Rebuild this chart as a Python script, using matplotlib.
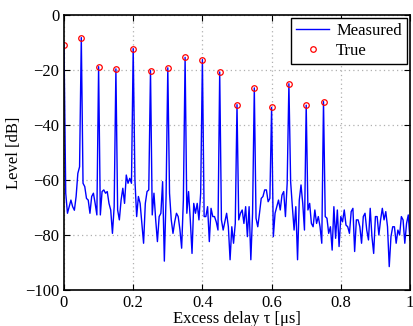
import numpy as np
import matplotlib
matplotlib.use('Agg')
import matplotlib.pyplot as plt

plt.rcParams['font.family'] = ['Liberation Serif', 'DejaVu Serif']
plt.rcParams['axes.unicode_minus'] = True

# true path delays [us] and levels [dB]
true_delay = [0.00, 0.05, 0.10, 0.15, 0.20, 0.25, 0.30, 0.35,
              0.40, 0.45, 0.50, 0.55, 0.60, 0.65, 0.70, 0.75]
true_level = [-10.9, -8.2, -18.8, -19.6, -12.2, -20.2, -19.2, -15.4,
              -16.2, -20.7, -32.6, -26.5, -33.6, -25.0, -32.8, -31.5]

# measured response, sampled every 0.005 us from 0 to 1 us
meas_step = 0.005
meas_level = [
    -10.9, -64.8, -72.1, -69.7, -67.3, -69.7, -71.0, -66.0, -57.6, -55.2,
    -8.2, -61.2, -62.4, -66.7, -67.3, -72.1, -66.0, -64.8, -68.5, -72.7,
    -18.8, -72.7, -64.2, -63.6, -64.8, -64.2, -68.5, -70.9, -79.4, -69.7,
    -19.6, -70.9, -74.5, -67.3, -63.0, -68.5, -58.2, -61.2, -59.4, -61.2,
    -12.2, -60.0, -73.3, -66.0, -68.5, -75.8, -83.0, -68.5, -64.2, -63.6,
    -20.2, -72.7, -64.8, -74.5, -82.4, -73.3, -72.1, -60.6, -89.5, -66.0,
    -19.2, -64.8, -74.5, -79.4, -75.2, -72.1, -73.3, -78.0, -84.8, -67.3,
    -15.4, -72.1, -64.2, -74.5, -86.7, -68.5, -72.1, -68.5, -74.5, -64.8,
    -16.2, -73.3, -73.3, -69.7, -82.4, -70.3, -73.3, -73.3, -75.2, -78.2,
    -20.7, -74.5, -78.2, -75.2, -72.1, -77.0, -89.0, -77.0, -83.0, -75.8,
    -32.6, -74.5, -72.1, -70.9, -75.8, -69.7, -80.6, -69.7, -89.0, -72.1,
    -26.5, -73.9, -77.0, -72.1, -66.7, -66.0, -63.6, -63.6, -67.9, -66.7,
    -33.6, -80.6, -72.1, -69.7, -67.3, -70.9, -65.5, -64.2, -73.3, -61.2,
    -25.0, -60.6, -69.7, -78.2, -69.7, -89.0, -67.3, -61.8, -68.5, -78.2,
    -32.8, -70.9, -68.5, -75.8, -77.0, -70.9, -75.8, -73.3, -77.0, -83.0,
    -31.5, -73.3, -73.9, -79.4, -77.0, -85.5, -69.7, -81.2, -70.9, -84.2,
    -73.3, -75.2, -70.9, -76.4, -77.0, -79.4, -71.5, -70.3, -86.0, -74.5,
    -74.5, -77.0, -83.0, -73.3, -72.1, -78.2, -81.8, -70.3, -80.6, -86.7,
    -73.3, -73.3, -80.0, -74.5, -70.3, -74.5, -71.5, -77.0, -91.5, -80.6,
    -77.0, -77.0, -83.0, -78.2, -80.0, -73.3, -74.5, -83.0, -75.8, -72.7,
    -81.8,
]
meas_delay = np.arange(len(meas_level)) * meas_step

fig = plt.figure(figsize=(4.14, 3.26), dpi=100)
ax = fig.add_axes([64 / 414, 1 - 290 / 326, 346 / 414, 275 / 326])

ax.plot(meas_delay, meas_level, color='blue', lw=1.0, label='Measured')
ax.plot(true_delay, true_level, 'o', mfc='none', mec='red', ms=4, mew=0.9,
        label='True')

ax.set_xlim(0, 1)
ax.set_ylim(-100, 0)
ax.set_xticks([0, 0.2, 0.4, 0.6, 0.8, 1])
ax.set_xticklabels(['0', '0.2', '0.4', '0.6', '0.8', '1'])
ax.set_yticks([-100, -80, -60, -40, -20, 0])
ax.grid(True, linestyle=(0, (1, 2.5)), color='#b0b0b0', lw=0.9)
ax.tick_params(direction='in', top=True, right=True, labelsize=12, length=4)
for s in ax.spines.values():
    s.set_linewidth(1.2)

ax.set_xlabel('Excess delay τ [μs]', fontsize=12, labelpad=0)
ax.set_ylabel('Level [dB]', fontsize=12, labelpad=2)

leg = ax.legend(loc='upper right', fontsize=12, fancybox=False, framealpha=1,
                edgecolor='black', borderaxespad=0.2, handlelength=2.0,
                borderpad=0.3, labelspacing=0.2, handletextpad=0.4)
leg.get_frame().set_linewidth(1.0)

fig.savefig('out.png', dpi=100)
